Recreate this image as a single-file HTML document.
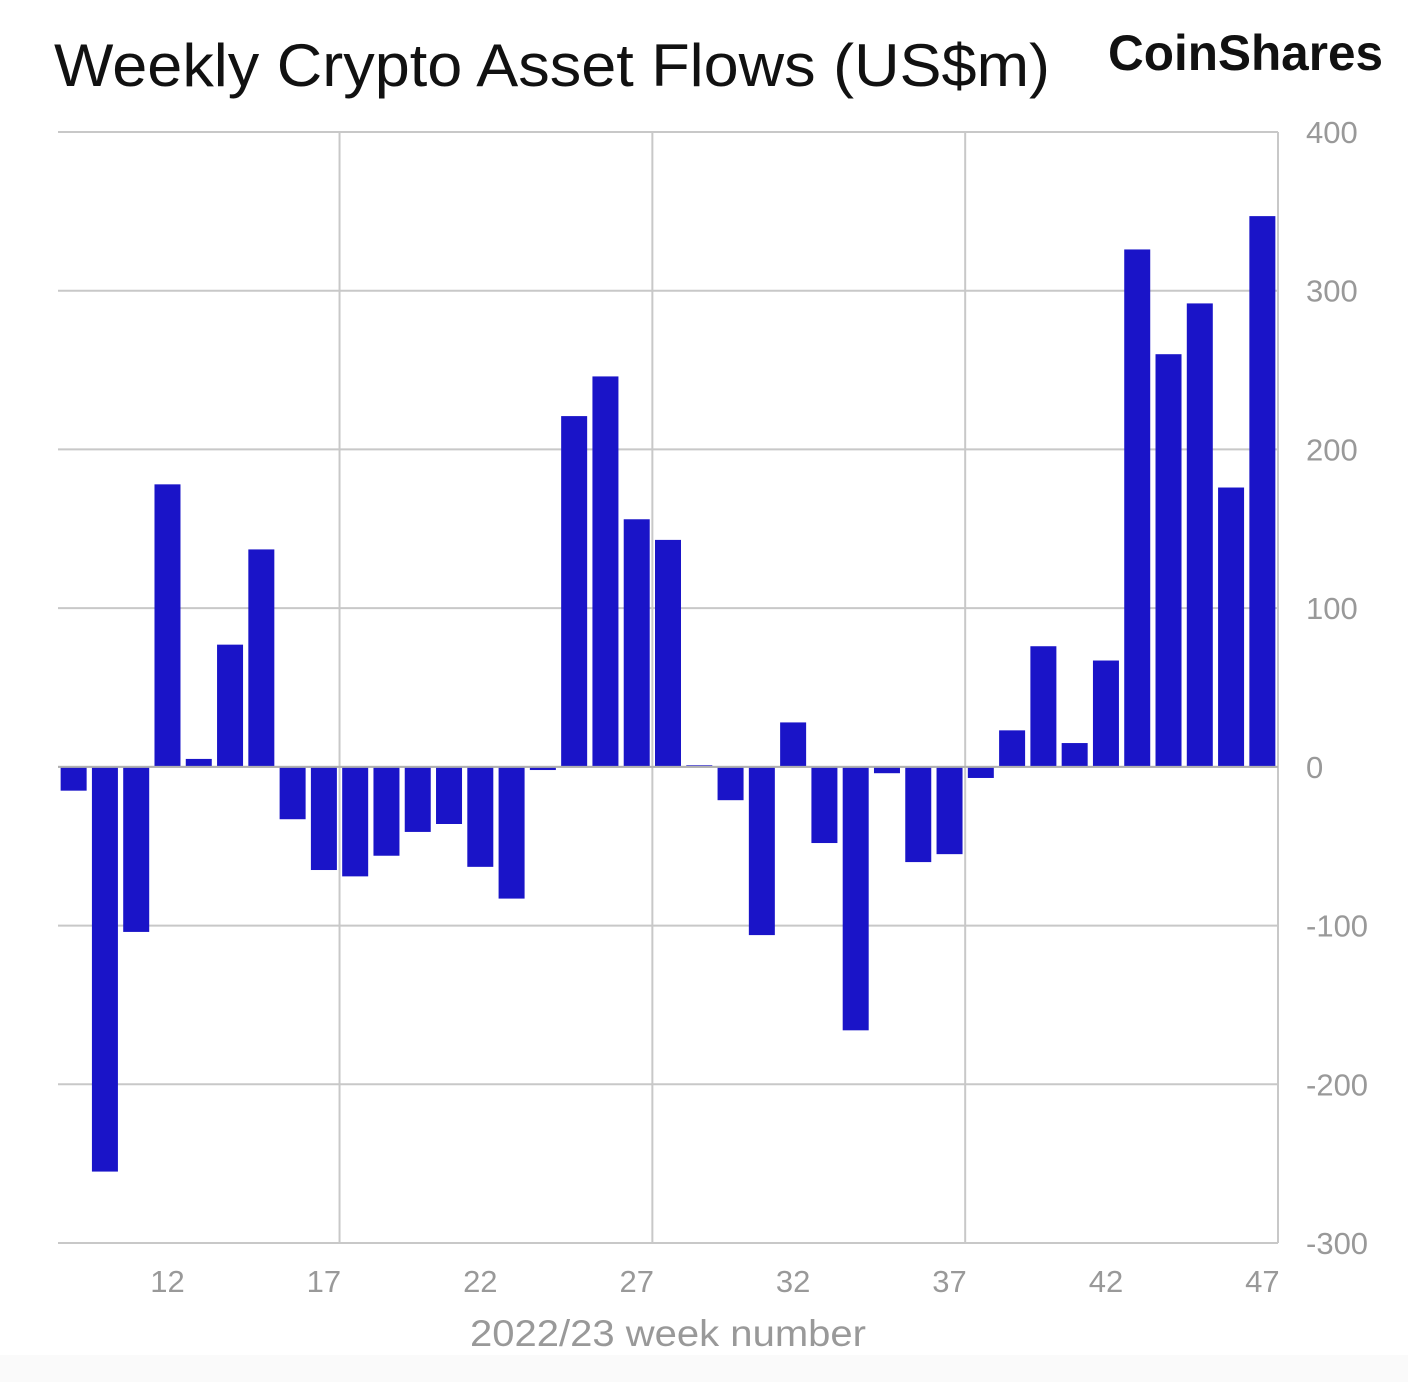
<!DOCTYPE html>
<html><head><meta charset="utf-8"><style>
html,body{margin:0;padding:0;background:#fff;width:1408px;height:1382px;overflow:hidden}
svg{display:block}
</style></head><body>
<svg id="chart" width="1408" height="1382" font-family="Liberation Sans, sans-serif">
<rect x="0" y="1355" width="1408" height="27" fill="#fafafa"/>
<text x="54" y="86" font-size="60" fill="#111" textLength="996" lengthAdjust="spacingAndGlyphs">Weekly Crypto Asset Flows (US$m)</text>
<text x="1108" y="70" font-size="50" font-weight="bold" fill="#111" textLength="275" lengthAdjust="spacingAndGlyphs">CoinShares</text>
<g id="grid"></g><g id="bars"></g><g id="labels"></g>
<text x="668" y="1346" font-size="37" fill="#999" text-anchor="middle" textLength="396" lengthAdjust="spacingAndGlyphs">2022/23 week number</text>
</svg>
<script>
const weeks=[9,10,11,12,13,14,15,16,17,18,19,20,21,22,23,24,25,26,27,28,29,30,31,32,33,34,35,36,37,38,39,40,41,42,43,44,45,46,47];
const flows=[-15,-255,-104,178,5,77,137,-33,-65,-69,-56,-41,-36,-63,-83,-2,221,246,156,143,1,-21,-106,28,-48,-166,-4,-60,-55,-7,23,76,15,67,326,260,292,176,347];
const yTicks=[400,300,200,100,0,-100,-200,-300];
const xTickLabels=[12,17,22,27,32,37,42,47];
const NS='http://www.w3.org/2000/svg';
const L=58,R=1278,T=132,B=1243,ymax=400,ymin=-300;
const y=v=>T+(ymax-v)/(ymax-ymin)*(B-T);
const bw=(R-L)/weeks.length;
const xc=w=>L+(weeks.indexOf(w)+0.5)*bw;
function mk(tag,at,parent){const e=document.createElementNS(NS,tag);for(const k in at)e.setAttribute(k,at[k]);parent.appendChild(e);return e;}
const grid=document.getElementById('grid'),bars=document.getElementById('bars'),labels=document.getElementById('labels');
yTicks.forEach(t=>{
 const l=mk('line',{x1:L,x2:R,y1:y(t),y2:y(t),stroke:'#c8c8c8','stroke-width':2},grid);
 
 
 const tx=mk('text',{x:1306,y:y(t)+11,'font-size':31,fill:'#999'},labels);
 tx.textContent=t;
 
 
});
for(let i=9;i<weeks.length;i+=10){
 const xx=L+i*bw;
 const l=mk('line',{x1:xx,x2:xx,y1:T,y2:B,stroke:'#c8c8c8','stroke-width':2},grid);
 
 
}
const lr=mk('line',{x1:R,x2:R,y1:T,y2:B,stroke:'#c8c8c8','stroke-width':2},grid);


weeks.forEach((w,i)=>{
 const v=flows[i];
 const r=mk('rect',{x:xc(w)-13,width:26,y:Math.min(y(v),y(0)),height:Math.max(1.5,Math.abs(y(v)-y(0))),fill:'#1a14c8'},bars);
 
 
});
const zl=mk('line',{x1:L,x2:R,y1:y(0),y2:y(0),stroke:'#b0b0b0','stroke-width':2},grid.parentNode);


xTickLabels.forEach(w=>{
 const tx=mk('text',{x:xc(w),y:1292,'font-size':31,fill:'#999','text-anchor':'middle'},labels);
 tx.textContent=w;
 
 
});
</script>
</body></html>
